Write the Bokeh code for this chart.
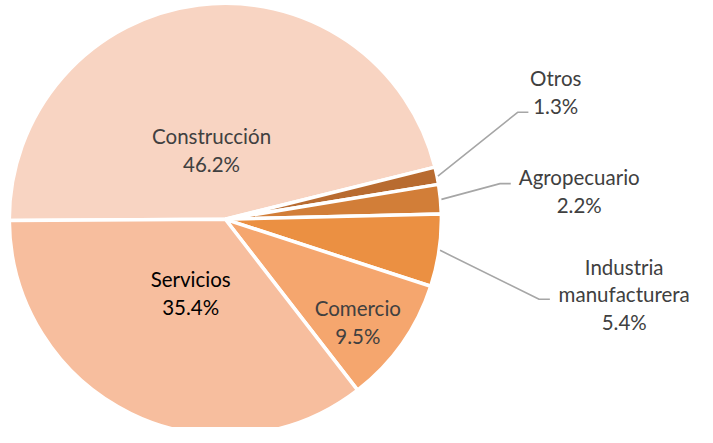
import numpy as np
from bokeh.plotting import figure
from bokeh.models import Range1d
from bokeh.embed import file_html
from bokeh.resources import INLINE
from bokeh.core.properties import value

# ---- data ----
categories = ["Construcción", "Otros", "Agropecuario", "Industria manufacturera", "Comercio", "Servicios"]
shares = [46.2, 1.3, 2.2, 5.4, 9.5, 35.4]
label_lines = [["Construcción"], ["Otros"], ["Agropecuario"], ["Industria", "manufacturera"], ["Comercio"], ["Servicios"]]
pct_labels = ["46.2%", "1.3%", "2.2%", "5.4%", "9.5%", "35.4%"]

# ---- style / layout ----
colors = ["#F8D4C2", "#B86B30", "#D27E38", "#EB9042", "#F5A66E", "#F7BE9E"]
text_colors = ["#404040", "#404040", "#404040", "#404040", "#404040", "#000000"]
W, H = 697, 427            # figure size (fits window with 8px margin)
RW, RH = 713, 443          # reference coordinate frame
cx, cy_ref, R = 230, 227, 221
start_deg = 180.3
FONT = "Lato"
FS = 20.5
LH = 29

def Y(yref):
    return RH - yref

cy = Y(cy_ref)

p = figure(width=W, height=H, x_range=Range1d(0, RW), y_range=Range1d(0, RH),
           output_backend="svg", toolbar_location=None, min_border=0)
p.axis.visible = False
p.grid.visible = False
p.outline_line_color = None
p.background_fill_color = "white"
p.border_fill_color = "white"

vals = np.array(shares)
cum = np.concatenate([[0], np.cumsum(vals)])
a0 = np.deg2rad(start_deg - cum[:-1] * 3.6)
a1 = np.deg2rad(start_deg - cum[1:] * 3.6)
mid = (a0 + a1) / 2

p.wedge(x=[cx] * len(vals), y=[cy] * len(vals), radius=R, start_angle=a1, end_angle=a0,
        fill_color=colors, line_color="white", line_width=3.5)

# inside labels: (radius fraction, angle tweak deg)
inside = {0: (0.33, 4.0), 5: (0.38, 1.0), 4: (0.78, -3.0)}
# outside labels: text block centre (ref px) and leader elbow
outside = {
    1: ((568, 95), (529, 116), (540, 116)),
    2: ((592, 198), (511, 190), (522, 190)),
    3: ((638, 305), (551, 310), (562, 310)),
}

def draw_block(i, xc, yc_ref):
    lines = label_lines[i] + [pct_labels[i]]
    n = len(lines)
    ys = [Y(yc_ref + (k - (n - 1) / 2) * LH) for k in range(n)]
    p.text(x=[xc] * n, y=ys, text=lines, text_align="center", text_baseline="middle",
           text_font=value(FONT), text_font_size=f"{FS}px", text_color=text_colors[i])

for i, (frac, tweak) in inside.items():
    ang = mid[i] + np.deg2rad(tweak)
    xc = cx + R * frac * np.cos(ang)
    yc = cy + R * frac * np.sin(ang)
    draw_block(i, xc, RH - yc)

for i, (ctr, elbow, end) in outside.items():
    sx = cx + (R + 1) * np.cos(mid[i])
    sy = cy + (R + 1) * np.sin(mid[i])
    p.line(x=[sx, elbow[0], end[0]], y=[sy, Y(elbow[1]), Y(end[1])], line_color="#A6A6A6", line_width=1.6)
    draw_block(i, ctr[0], ctr[1])

open("out.html", "w").write(file_html(p, INLINE))
